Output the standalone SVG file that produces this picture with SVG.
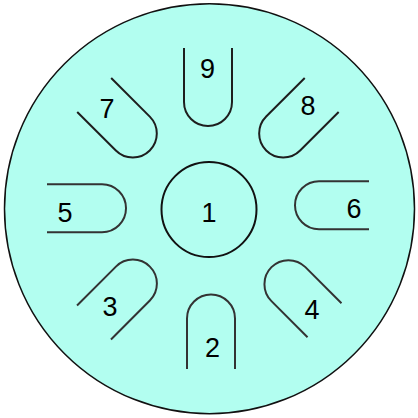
<svg xmlns="http://www.w3.org/2000/svg" width="418" height="418" viewBox="0 0 418 418">
<style>
.body{fill:#b2fef0;stroke:#111;stroke-width:1.5}
.tongue{fill:none;stroke:#1e1e1e;stroke-width:2;stroke-linecap:butt}
.soft{stroke:#333}
.lbl{font-family:"Liberation Sans",Arial,sans-serif;font-size:27px;fill:#000;text-anchor:middle}
</style>
<rect width="418" height="418" fill="#fff"/>
<circle id="drum" class="body" cx="209.5" cy="208.7" r="205"/>
<g id="n1">
<circle cx="209" cy="209.5" r="47.5" fill="none" stroke="#111" stroke-width="2"/>
<text class="lbl" x="209" y="221.5">1</text>
</g>
<g id="n9">
<path class="tongue" transform="translate(208,48)" d="M-24 0V54A24 24 0 0 0 24 54V0"/>
<text class="lbl" x="207.5" y="78">9</text>
</g>
<g id="n2">
<path class="tongue soft" transform="translate(211,369) rotate(180)" d="M-24 0V50.5A24 24 0 0 0 24 50.5V0"/>
<text class="lbl" x="212.5" y="356.5">2</text>
</g>
<g id="n5">
<path class="tongue soft" transform="translate(47,208.3) rotate(-90)" d="M-24 0V55A24 24 0 0 0 24 55V0"/>
<text class="lbl" x="65" y="221.5">5</text>
</g>
<g id="n6">
<path class="tongue soft" transform="translate(369,205.2) rotate(90)" d="M-24 0V50A24 24 0 0 0 24 50V0"/>
<text class="lbl" x="354" y="218">6</text>
</g>
<g id="n7">
<path class="tongue" transform="translate(94.2,95) rotate(-45)" d="M-24 0V54.6A24 24 0 0 0 24 54.6V0"/>
<text class="lbl" x="107" y="118">7</text>
</g>
<g id="n8">
<path class="tongue" transform="translate(321.7,95) rotate(45)" d="M-24 0V54.5A24 24 0 0 0 24 54.5V0"/>
<text class="lbl" x="308" y="115">8</text>
</g>
<g id="n3">
<path class="tongue soft" transform="translate(94,322.5) rotate(-135)" d="M-24 0V55A24 24 0 0 0 24 55V0"/>
<text class="lbl" x="110" y="315.5">3</text>
</g>
<g id="n4">
<path class="tongue soft" transform="translate(324.5,320.2) rotate(135)" d="M-24 0V51A24 24 0 0 0 24 51V0"/>
<text class="lbl" x="312" y="319">4</text>
</g>
</svg>
